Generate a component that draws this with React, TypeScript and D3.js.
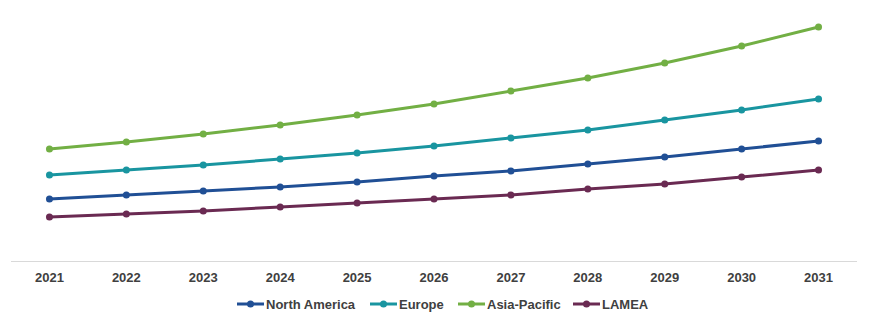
import React from "react";
import * as d3 from "d3";

const years = ["2021","2022","2023","2024","2025","2026","2027","2028","2029","2030","2031"];
const northAmerica = [62, 66, 70, 74, 79, 85, 90, 97, 104, 112, 120];
const europe = [86, 91, 96, 102, 108, 115, 123, 131, 141, 151, 162];
const asiaPacific = [112, 119, 127, 136, 146, 157, 170, 183, 198, 215, 234];
const lamea = [44, 47, 50, 54, 58, 62, 66, 72, 77, 84, 91];
const seriesNames = ["North America", "Europe", "Asia-Pacific", "LAMEA"];
const seriesColors = ["#204F95", "#1995A0", "#72AF44", "#6A2A52"];

export default function App() {
  const W = 874, H = 323;
  const series = [northAmerica, europe, asiaPacific, lamea];
  const x = d3.scaleBand<string>().domain(years).range([11, 857]);
  const y = d3.scaleLinear().domain([0, 234]).range([261, 27]);
  const line = d3.line<number>().x((_, i) => (x(years[i]) as number) + x.bandwidth() / 2).y(d => y(d));
  const legendX = [237, 370, 458, 573];
  const font = "'Liberation Sans', Arial, sans-serif";
  return (
    <svg width={W} height={H} style={{ position: "absolute", left: 0, top: 0 }}>
      <rect width={W} height={H} fill="#fff" />
      <line x1={11} x2={857} y1={261.5} y2={261.5} stroke="#d9d9d9" strokeWidth={1} />
      {years.map(yr => (
        <text key={yr} x={(x(yr) as number) + x.bandwidth() / 2} y={282} textAnchor="middle"
          fontFamily={font} fontWeight="bold" fontSize={13} fill="#404040">{yr}</text>
      ))}
      {series.map((s, k) => (
        <g key={k}>
          <path d={line(s) || ""} fill="none" stroke={seriesColors[k]} strokeWidth={3} strokeLinejoin="round" />
          {s.map((v, i) => (
            <circle key={i} cx={(x(years[i]) as number) + x.bandwidth() / 2} cy={y(v)} r={3.5} fill={seriesColors[k]} />
          ))}
        </g>
      ))}
      {seriesNames.map((n, k) => (
        <g key={n} transform={`translate(${legendX[k]},304)`}>
          <line x1={0} x2={27} y1={0} y2={0} stroke={seriesColors[k]} strokeWidth={3} />
          <circle cx={13.5} cy={0} r={3.5} fill={seriesColors[k]} />
          <text x={29} y={4.5} fontFamily={font} fontWeight="bold" fontSize={13} fill="#404040">{n}</text>
        </g>
      ))}
    </svg>
  );
}
